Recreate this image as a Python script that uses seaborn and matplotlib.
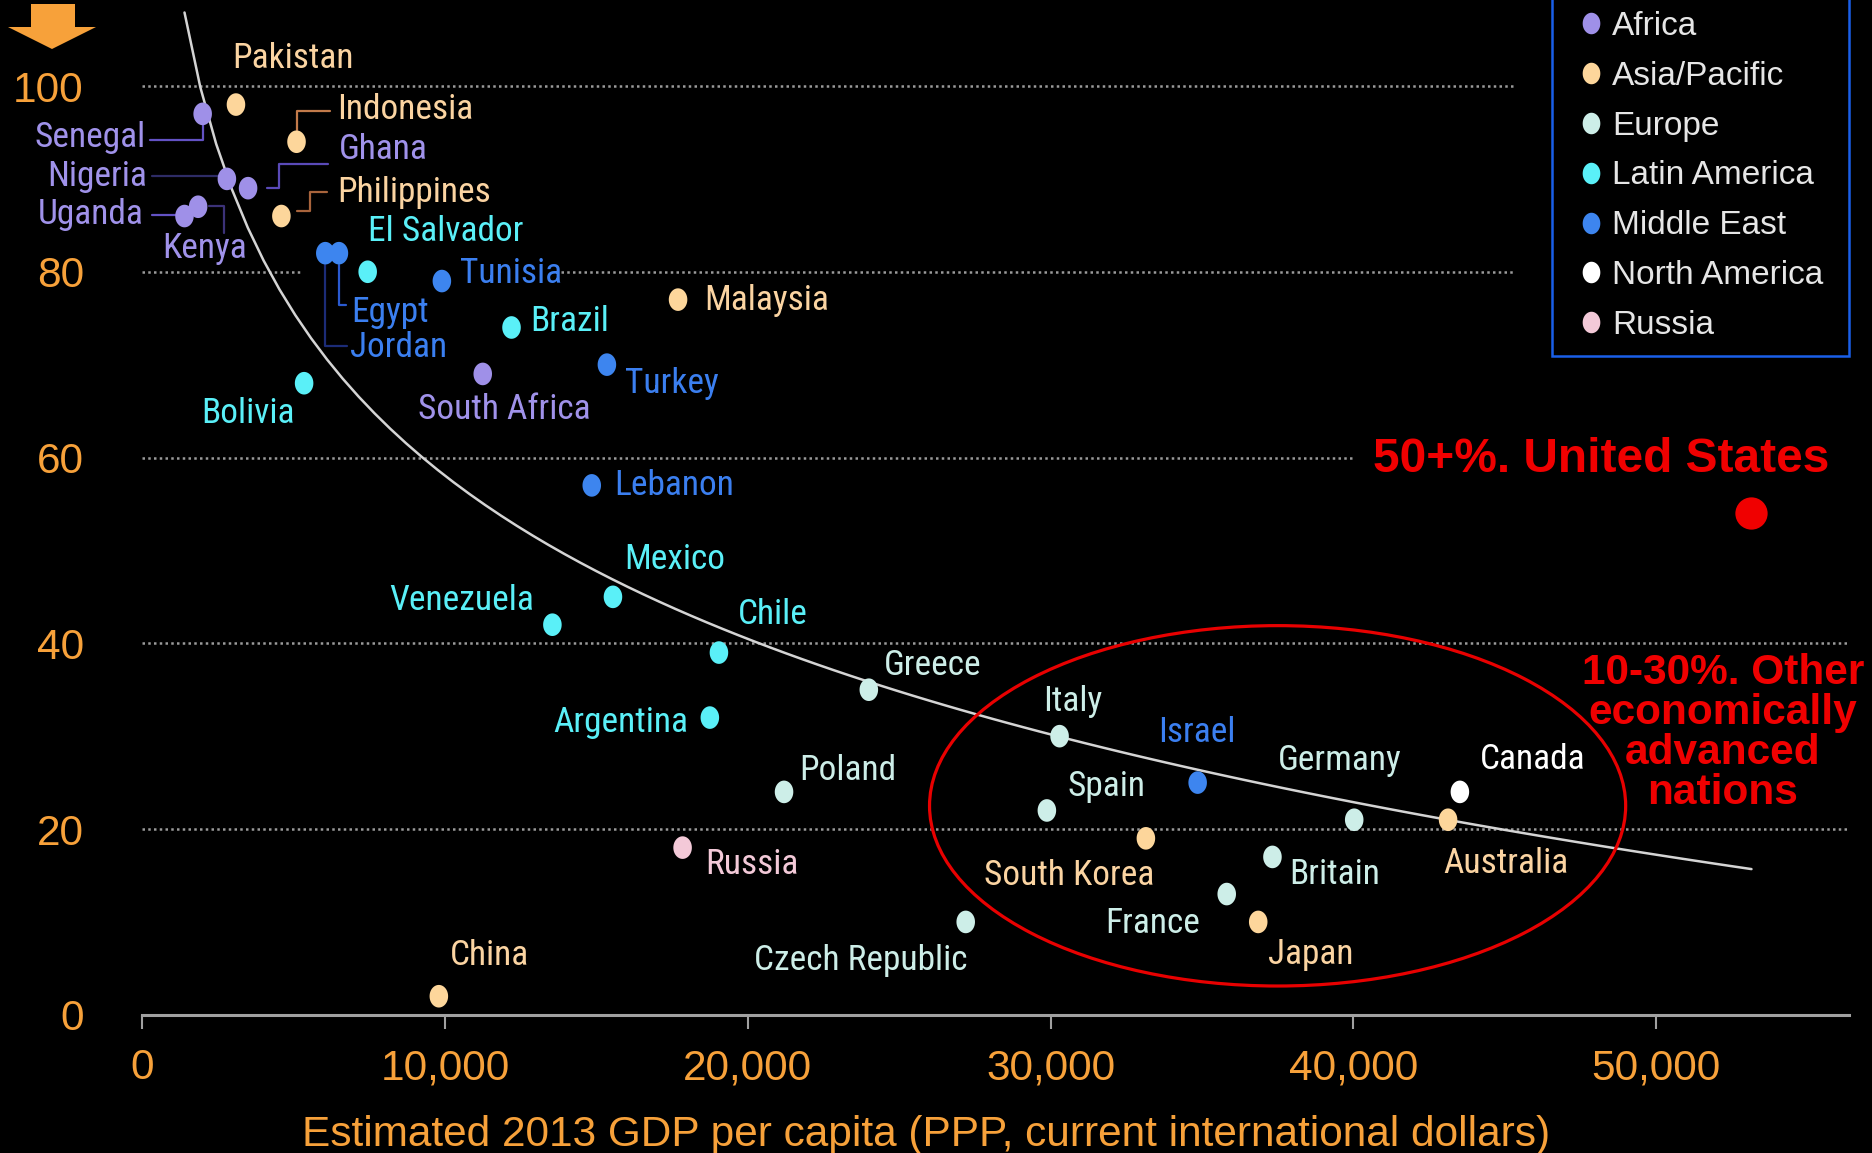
import numpy as np
import pandas as pd
import seaborn as sns
import matplotlib
matplotlib.use("Agg")
import matplotlib.pyplot as plt
from matplotlib.path import Path
from matplotlib.patches import Ellipse, Polygon
from matplotlib.lines import Line2D
from matplotlib.transforms import Affine2D, ScaledTranslation
from matplotlib import font_manager as fm

# ---------------- data ----------------
countries = ["Pakistan", "Senegal", "Indonesia", "Nigeria", "Ghana", "Philippines", "Uganda",
             "Kenya", "El Salvador", "Egypt", "Jordan", "Tunisia", "Brazil", "Malaysia",
             "Bolivia", "South Africa", "Turkey", "Lebanon", "Mexico", "Venezuela", "Chile",
             "Argentina", "Greece", "Poland", "Russia", "China", "Czech Republic", "Italy",
             "Spain", "Israel", "South Korea", "Germany", "Britain", "France", "Japan",
             "Canada", "Australia", "United States"]
gdp = [3100, 2000, 5100, 2800, 3500, 4600, 1400,
       1850, 7450, 6500, 6050, 9900, 12200, 17700,
       5350, 11250, 15350, 14850, 15550, 13550, 19050,
       18750, 24000, 21200, 17850, 9800, 27200, 30300,
       29880, 34860, 33150, 40030, 37330, 35820, 36860,
       43520, 43130, 53150]
pct = [98, 97, 94, 90, 89, 86, 86,
       87, 80, 82, 82, 79, 74, 77,
       68, 69, 70, 57, 45, 42, 39,
       32, 35, 24, 18, 2, 10, 30,
       22, 25, 19, 21, 17, 13, 10,
       24, 21, 54]
region = ["Asia/Pacific", "Africa", "Asia/Pacific", "Africa", "Africa", "Asia/Pacific", "Africa",
          "Africa", "Latin America", "Middle East", "Middle East", "Middle East", "Latin America", "Asia/Pacific",
          "Latin America", "Africa", "Middle East", "Middle East", "Latin America", "Latin America", "Latin America",
          "Latin America", "Europe", "Europe", "Russia", "Asia/Pacific", "Europe", "Europe",
          "Europe", "Middle East", "Asia/Pacific", "Europe", "Europe", "Europe", "Asia/Pacific",
          "North America", "Asia/Pacific", "North America"]

region_order = ["Africa", "Asia/Pacific", "Europe", "Latin America", "Middle East", "North America", "Russia"]
region_colors = ["#9f90e8", "#fdd69b", "#cdeee8", "#5af0f8", "#3d85ef", "#ffffff", "#f3c9d8"]
label_colors = ["#a092ea", "#fbd4a2", "#cdeee8", "#5af0f8", "#3b7ff0", "#ffffff", "#f3c9d8"]

x_ticks = [0, 10000, 20000, 30000, 40000, 50000]
x_tick_labels = ["0", "10,000", "20,000", "30,000", "40,000", "50,000"]
y_ticks = [0, 20, 40, 60, 80, 100]
y_tick_labels = ["0", "20", "40", "60", "80", "100"]
x_title = "Estimated 2013 GDP per capita (PPP, current international dollars)"
us_note = "50+%. United States"
adv_note = "10-30%. Other\neconomically\nadvanced\nnations"

df = pd.DataFrame({"country": countries, "gdp": gdp, "pct": pct, "region": region})

# ---------------- style ----------------
sns.set_theme(style="dark", rc={"axes.facecolor": "black", "figure.facecolor": "black",
                                "savefig.facecolor": "black"})
available = {f.name for f in fm.fontManager.ttflist}


def pick(*names):
    for n in names:
        if n in available:
            return n
    return "DejaVu Sans"


SANS = pick("Liberation Sans", "Arial", "DejaVu Sans")
NARROW = pick("Liberation Sans Narrow", "Arial Narrow", "Roboto Condensed", SANS)
plt.rcParams["font.family"] = [SANS, "DejaVu Sans"]

ORANGE = "#f7a13a"
RED = "#f00000"
GRID = "#9a9a9a"
S = 1872 / 1568  # layout offsets below are in reference-preview pixels

t = np.linspace(0, 2 * np.pi, 64)
ELL = Path(np.column_stack([0.82 * np.cos(t), np.sin(t)]), closed=True)

fig = plt.figure(figsize=(18.72, 11.53), dpi=100)
XMAX = (1849 - 142.1) / 302.8 * 10000
YMAX = 1014.8 / 9.288
ax = fig.add_axes([142.1 / 1872, (1153 - 1014.8) / 1153, (1849 - 142.1) / 1872, 1014.8 / 1153])
ax.set_facecolor("black")
ax.grid(False)

# grid lines (dotted), with their original extents
grid_segments = {100: [(0, 45300)], 80: [(0, 5200), (13850, 45300)], 60: [(0, 39950)],
                 40: [(0, XMAX)], 20: [(0, XMAX)]}
for yv, segs in grid_segments.items():
    for a, b in segs:
        ax.hlines(yv, a, b, colors=GRID, linestyles=(0, (1, 1.3)), lw=1.8, zorder=1)

# trend (log fit)
sns.regplot(data=df, x="gdp", y="pct", logx=True, scatter=False, ci=None, truncate=True,
            line_kws=dict(color="#d4d4d4", lw=1.8, zorder=2), ax=ax)

# points
pal = dict(zip(region_order, region_colors))
main = df[df.country != "United States"]
sns.scatterplot(data=main, x="gdp", y="pct", hue="region", hue_order=region_order, palette=pal,
                marker=ELL, s=265, linewidth=0, legend=False, ax=ax, zorder=4, clip_on=False)
us = df[df.country == "United States"]
ax.scatter(us.gdp, us.pct, s=540, color=RED, marker="o", linewidth=0, zorder=5)

ax.set_xlim(0, XMAX)
ax.set_ylim(0, YMAX)
ax.set_xticks(x_ticks, x_tick_labels)
ax.set_yticks(y_ticks, y_tick_labels)
for s_ in ["left", "right", "top"]:
    ax.spines[s_].set_visible(False)
ax.spines["bottom"].set_color("#a0a0a0")
ax.spines["bottom"].set_linewidth(2.2)
ax.tick_params(axis="x", direction="out", length=10, width=1.5, color="#a0a0a0",
               labelcolor=ORANGE, labelsize=30.5, pad=14, bottom=True)
ax.tick_params(axis="y", length=0, labelcolor=ORANGE, labelsize=30.5, pad=42, left=True)
ax.set_xlabel(x_title, color=ORANGE, fontsize=30.5, va="center")
ax.xaxis.set_label_coords((926.5 - 142.1) / (1849 - 142.1), -(1135 - 1014.8) / 1014.8)
ax.set_ylabel("")

# ---------------- labels ----------------
label_layout = {  # (ha, dx, dy) offsets from the point, preview pixels, y down
    "Pakistan": ("left", -3, -39), "Senegal": ("right", -48, 20), "Indonesia": ("left", 34, -27),
    "Nigeria": ("right", -67, -2), "Ghana": ("left", 76, -32), "Philippines": ("left", 47, -20),
    "Uganda": ("right", -34, -1), "Kenya": ("left", -30, 35), "El Salvador": ("left", 0, -34),
    "Egypt": ("left", 10, 50), "Jordan": ("left", 21, 79), "Tunisia": ("left", 15, -6),
    "Brazil": ("left", 16, -5), "Malaysia": ("left", 22, 1), "Bolivia": ("center", -47, 25),
    "South Africa": ("center", 18, 30), "Turkey": ("left", 15, 16), "Lebanon": ("left", 19, 0),
    "Mexico": ("center", 52, -31), "Venezuela": ("right", -15, -20), "Chile": ("left", 16, -32),
    "Argentina": ("right", -18, 4), "Greece": ("left", 13, -20), "Poland": ("left", 13, -18),
    "Russia": ("left", 19, 14), "China": ("left", 9, -34), "Czech Republic": ("center", -88, 32),
    "Italy": ("left", -14, -29), "Spain": ("left", 17, -20), "Israel": ("left", -33, -42),
    "South Korea": ("left", -136, 31), "Germany": ("left", -64, -50), "Britain": ("left", 14, 15),
    "France": ("right", -22, 25), "Japan": ("left", 8, 27), "Canada": ("left", 17, -27),
    "Australia": ("left", -4, 37),
}
lab_col = dict(zip(region_order, label_colors))
for _, r in main.iterrows():
    ha, dx, dy = label_layout[r.country]
    ax.annotate(r.country, (r.gdp, r.pct), xytext=(dx * S, -dy * S), textcoords="offset pixels",
                ha=ha, va="center", color=lab_col[r.region], fontsize=25.5, family=NARROW,
                zorder=6, annotation_clip=False)

leaders = {
    "Senegal": ("#6352c4", [(0, 8), (0, 22), (-44, 22)]),
    "Nigeria": ("#2e2c66", [(-63, -2), (0, -2)]),
    "Uganda": ("#6352c4", [(-27, -1), (0, -1)]),
    "Kenya": ("#3c3278", [(9, -1), (22, -1), (22, 22)]),
    "Indonesia": ("#c27a4a", [(0, -10), (0, -26), (28, -26)]),
    "Ghana": ("#5a4ab8", [(16, 0), (26, 0), (26, -20), (67, -20)]),
    "Philippines": ("#a8643c", [(13, -4), (24, -4), (24, -20), (38, -20)]),
    "Egypt": ("#2a5ad0", [(0, 10), (0, 43), (6, 43)]),
    "Jordan": ("#1c2c78", [(0, 10), (0, 78), (18, 78)]),
}
for name, (col, pts) in leaders.items():
    r = df[df.country == name].iloc[0]
    tr = Affine2D().scale(S, -S) + ScaledTranslation(r.gdp, r.pct, ax.transData)
    xs, ys = zip(*pts)
    ax.add_line(Line2D(xs, ys, color=col, lw=1.6, transform=tr, zorder=3, clip_on=False))

# ---------------- annotations ----------------
ax.add_patch(Ellipse((37500, 22.5), 22990, 38.8, fill=False, edgecolor="#e80000", lw=2.3, zorder=7))
ax.text(48190, 59.8, us_note, color=RED, fontsize=34.5, fontweight="bold", ha="center",
        va="center", zorder=7)
ax.text(52210, 30.3, adv_note, color=RED, fontsize=30.5, fontweight="bold", ha="center",
        va="center", linespacing=1.0, zorder=7)

arrow = [(31, 4), (75, 4), (75, 27), (96, 27), (52, 49), (8, 27), (31, 27)]
fig.add_artist(Polygon([(x / 1872, 1 - y / 1153) for x, y in arrow], closed=True,
                       transform=fig.transFigure, color=ORANGE, lw=0))

# ---------------- legend ----------------
handles = [Line2D([], [], marker=ELL, ls="", markersize=15.5, markerfacecolor=c,
                  markeredgewidth=0) for c in region_colors]
leg = ax.legend(handles, region_order, loc="lower left",
                bbox_to_anchor=(1552 / 1872, 797 / 1153, (1849 - 1552) / 1872, 0.01),
                mode="expand", bbox_transform=fig.transFigure, borderaxespad=0, frameon=True,
                fancybox=False, facecolor="black", edgecolor="#1a5fe8", framealpha=1,
                prop=fm.FontProperties(family=SANS, size=24), labelcolor="#e6e6e6",
                labelspacing=0.565, handlelength=1.46, handletextpad=-0.1, borderpad=0.45)
leg.get_frame().set_linewidth(1.8)
leg.set_zorder(10)

fig.savefig("out.png", dpi=100, facecolor="black")
